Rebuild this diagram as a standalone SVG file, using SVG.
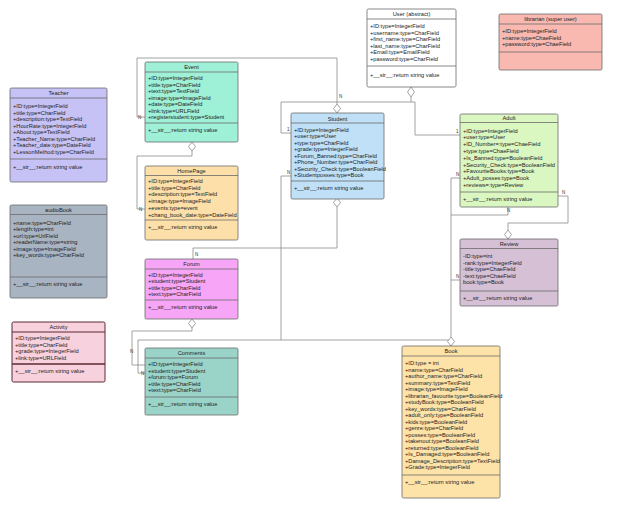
<svg xmlns="http://www.w3.org/2000/svg" width="640" height="507" viewBox="0 0 640 507">
<style>
.bg{fill:#ffffff}
.box{stroke:#6b6b6b;stroke-width:0.8}
.ln{stroke:#6b6b6b;stroke-width:0.8}
.t{font-family:"Liberation Sans",Arial,sans-serif;font-size:5.7px;fill:#222}
.ti{text-anchor:middle}
.c{fill:none;stroke:#8c8c8c;stroke-width:0.8}
.d{fill:#ffffff;stroke:#8c8c8c;stroke-width:0.8}
.lb{font-family:"Liberation Sans",Arial,sans-serif;font-size:4.5px;fill:#333}
</style>
<rect class="bg" x="0" y="0" width="640" height="507"/>

<g id="connectors">
  <path class="c" d="M145,117 H137 V58 H337 V104"/>
  <polygon class="d" points="337,104 340.5,108.5 337,113 333.5,108.5"/>
  <text class="lb" x="138" y="119">N</text>
  <text class="lb" x="339" y="98">N</text>
  <polygon class="d" points="192,142 195.5,146.5 192,151 188.5,146.5"/>
  <path class="c" d="M192,151 V156 H137 V209 H145"/>
  <text class="lb" x="139" y="211">N</text>
  <polygon class="d" points="411,87 414.5,92 411,97 407.5,92"/>
  <path class="c" d="M411,97 V102 H281 V133 H291"/>
  <text class="lb" x="287" y="131">1</text>
  <path class="c" d="M411,102 H415 V135 H460"/>
  <text class="lb" x="456" y="133">1</text>
  <polygon class="d" points="337,198 340.5,202.5 337,207 333.5,202.5"/>
  <path class="c" d="M337,207 V248 H193 V259"/>
  <text class="lb" x="195" y="256">N</text>
  <path class="c" d="M291,176 H281 V340 H451"/>
  <text class="lb" x="287" y="174">N</text>
  <path class="c" d="M145,373 H138 V340 H281"/>
  <text class="lb" x="141" y="375">N</text>
  <polygon class="d" points="192,319 195.5,323.5 192,328 188.5,323.5"/>
  <path class="c" d="M192,328 V331 H132 V365 H145"/>
  <text class="lb" x="130" y="353">N</text>
  <path class="c" d="M558,196 H568 V223 H508 V230"/>
  <polygon class="d" points="508,230 511.5,234.5 508,239 504.5,234.5"/>
  <text class="lb" x="562" y="194">N</text>
  <path class="c" d="M460,178 H451 V337"/>
  <text class="lb" x="456" y="176">N</text>
  <path class="c" d="M508,207 V215 H451"/>
  <text class="lb" x="507" y="212">N</text>
  <path class="c" d="M460,280 H451"/>
  <text class="lb" x="456" y="278">N</text>
  <polygon class="d" points="451,337 454.5,341.5 451,346 447.5,341.5"/>
</g>

<g id="teacher">
  <rect class="box" x="10" y="88" width="97" height="94" rx="1.5" fill="#c7c2f5"/>
  <line class="ln" x1="10" y1="98" x2="107" y2="98"/>
  <line class="ln" x1="10" y1="159" x2="107" y2="159"/>
  <text class="t ti" x="58.5" y="94.5">Teacher</text>
  <text class="t" x="13" y="108">
    <tspan x="13">+ID:type=IntegerField</tspan>
    <tspan x="13" dy="6.57">+title:type=CharField</tspan>
    <tspan x="13" dy="6.57">+description:type=TextField</tspan>
    <tspan x="13" dy="6.57">+HourRate:type=IntegerField</tspan>
    <tspan x="13" dy="6.57">+About:type=TextField</tspan>
    <tspan x="13" dy="6.57">+Teacher_Name:type=CharField</tspan>
    <tspan x="13" dy="6.57">+Teacher_date:type=DateField</tspan>
    <tspan x="13" dy="6.57">+LessonMethod:type=CharField</tspan>
  </text>
  <text class="t" x="13" y="169">+__str__:return string value</text>
</g>

<g id="audiobook">
  <rect class="box" x="10" y="205" width="97" height="93" rx="1.5" fill="#a9b4c3"/>
  <line class="ln" x1="10" y1="214.5" x2="107" y2="214.5"/>
  <line class="ln" x1="10" y1="277" x2="107" y2="277"/>
  <text class="t ti" x="58.5" y="211.5">audioBook</text>
  <text class="t" x="13" y="225">
    <tspan x="13">+name:type=CharField</tspan>
    <tspan x="13" dy="6.4">+length:type=int</tspan>
    <tspan x="13" dy="6.4">+url:type=UrlField</tspan>
    <tspan x="13" dy="6.4">+readerName:type=string</tspan>
    <tspan x="13" dy="6.4">+image:type=ImageField</tspan>
    <tspan x="13" dy="6.4">+key_words:type=CharField</tspan>
  </text>
  <text class="t" x="13" y="286">+__str__:return string value</text>
</g>

<g id="activity">
  <rect x="12" y="322" width="93" height="60" rx="1.5" fill="#f8d1de" stroke="#5a2a33" stroke-width="1"/>
  <line x1="12" y1="332" x2="105" y2="332" stroke="#5a2a33" stroke-width="1"/>
  <line x1="12" y1="364" x2="105" y2="364" stroke="#5a2a33" stroke-width="1.3"/>
  <text class="t ti" x="58.5" y="328.5">Activity</text>
  <text class="t" x="15" y="340">
    <tspan x="15">+ID:type=IntegerField</tspan>
    <tspan x="15" dy="6.67">+title:type=CharField</tspan>
    <tspan x="15" dy="6.67">+grade:type=IntegerField</tspan>
    <tspan x="15" dy="6.67">+link:type=URLField</tspan>
  </text>
  <text class="t" x="15" y="373">+__str__:return string value</text>
</g>

<g id="event">
  <rect class="box" x="145" y="62" width="93" height="80" rx="1.5" fill="#9ef0d6"/>
  <line class="ln" x1="145" y1="72" x2="238" y2="72"/>
  <line class="ln" x1="145" y1="123" x2="238" y2="123"/>
  <text class="t ti" x="191.5" y="69">Event</text>
  <text class="t" x="148" y="80">
    <tspan x="148">+ID:type=IntegerField</tspan>
    <tspan x="148" dy="6.5">+title:type=CharField</tspan>
    <tspan x="148" dy="6.5">+text:type=TextField</tspan>
    <tspan x="148" dy="6.5">+image:type=ImageField</tspan>
    <tspan x="148" dy="6.5">+date:type=DateField</tspan>
    <tspan x="148" dy="6.5">+link:type=URLField</tspan>
    <tspan x="148" dy="6.5">+registerstudent:type=Student</tspan>
  </text>
  <text class="t" x="148" y="132">+__str__:return string value</text>
</g>

<g id="homepage">
  <rect class="box" x="145" y="166" width="93" height="74" rx="1.5" fill="#fde0a9"/>
  <line class="ln" x1="145" y1="175.5" x2="238" y2="175.5"/>
  <line class="ln" x1="145" y1="220" x2="238" y2="220"/>
  <text class="t ti" x="191.5" y="172.5">HomePage</text>
  <text class="t" x="148" y="183">
    <tspan x="148">+ID:type=IntegerField</tspan>
    <tspan x="148" dy="6.7">+title:type=CharField</tspan>
    <tspan x="148" dy="6.7">+description:type=TextField</tspan>
    <tspan x="148" dy="6.7">+image:type=ImageField</tspan>
    <tspan x="148" dy="6.7">+events:type=event</tspan>
    <tspan x="148" dy="6.7">+chang_book_date:type=DateField</tspan>
  </text>
  <text class="t" x="148" y="228.5">+__str__:return string value</text>
</g>

<g id="forum">
  <rect class="box" x="145" y="259" width="93" height="60" rx="1.5" fill="#f7a5f6"/>
  <line class="ln" x1="145" y1="269" x2="238" y2="269"/>
  <line class="ln" x1="145" y1="300" x2="238" y2="300"/>
  <text class="t ti" x="191.5" y="266">Forum</text>
  <text class="t" x="148" y="276.5">
    <tspan x="148">+ID:type=IntegerField</tspan>
    <tspan x="148" dy="6.5">+student:type=Student</tspan>
    <tspan x="148" dy="6.5">+title:type=CharField</tspan>
    <tspan x="148" dy="6.5">+text:type=CharField</tspan>
  </text>
  <text class="t" x="148" y="309">+__str__:return string value</text>
</g>

<g id="comments">
  <rect class="box" x="145" y="348" width="93" height="67" rx="1.5" fill="#9ad4c8"/>
  <line class="ln" x1="145" y1="358" x2="238" y2="358"/>
  <line class="ln" x1="145" y1="397" x2="238" y2="397"/>
  <text class="t ti" x="191.5" y="355">Comments</text>
  <text class="t" x="148" y="366">
    <tspan x="148">+ID:type=IntegerField</tspan>
    <tspan x="148" dy="6.6">+student:type=Student</tspan>
    <tspan x="148" dy="6.6">+forum:type=Forum</tspan>
    <tspan x="148" dy="6.6">+title:type=CharField</tspan>
    <tspan x="148" dy="6.6">+text:type=CharField</tspan>
  </text>
  <text class="t" x="148" y="405.5">+__str__:return string value</text>
</g>

<g id="student">
  <rect class="box" x="291" y="113" width="93" height="86" rx="1.5" fill="#bfe0f6"/>
  <line class="ln" x1="291" y1="123" x2="384" y2="123"/>
  <line class="ln" x1="291" y1="181" x2="384" y2="181"/>
  <text class="t ti" x="337.5" y="120.5">Student</text>
  <text class="t" x="294" y="132">
    <tspan x="294">+ID:type=IntegerField</tspan>
    <tspan x="294" dy="6.43">+user:type=User</tspan>
    <tspan x="294" dy="6.43">+type:type=CharField</tspan>
    <tspan x="294" dy="6.43">+grade:type=IntegerField</tspan>
    <tspan x="294" dy="6.43">+Forum_Banned:type=CharField</tspan>
    <tspan x="294" dy="6.43">+Phone_Number:type=CharField</tspan>
    <tspan x="294" dy="6.43">+Security_Check:type=BooleanField</tspan>
    <tspan x="294" dy="6.43">+Studentposses:type=Book</tspan>
  </text>
  <text class="t" x="294" y="190">+__str__:return string value</text>
</g>

<g id="user">
  <rect class="box" x="367" y="9" width="89" height="78" rx="1.5" fill="#ffffff"/>
  <line class="ln" x1="367" y1="19" x2="456" y2="19"/>
  <line class="ln" x1="367" y1="66" x2="456" y2="66"/>
  <text class="t ti" x="411.5" y="16">User (abstract)</text>
  <text class="t" x="370" y="28">
    <tspan x="370">+ID:type=IntegerField</tspan>
    <tspan x="370" dy="6.5">+username:type=CharField</tspan>
    <tspan x="370" dy="6.5">+first_name:type=CharField</tspan>
    <tspan x="370" dy="6.5">+last_name:type=CharField</tspan>
    <tspan x="370" dy="6.5">+Email:type=EmailField</tspan>
    <tspan x="370" dy="6.5">+password:type=CharField</tspan>
  </text>
  <text class="t" x="370" y="77">+__str__:return string value</text>
</g>

<g id="librarian">
  <rect class="box" x="499" y="14" width="103" height="56" rx="1.5" fill="#f9b9b1"/>
  <line class="ln" x1="499" y1="24" x2="602" y2="24"/>
  <line class="ln" x1="499" y1="52" x2="602" y2="52"/>
  <text class="t ti" x="550.5" y="21">librarian (super user)</text>
  <text class="t" x="502" y="33">
    <tspan x="502">+ID:type=IntegerField</tspan>
    <tspan x="502" dy="6.5">+name:type=ChaeField</tspan>
    <tspan x="502" dy="6.5">+password:type=ChaeField</tspan>
  </text>
</g>

<g id="adult">
  <rect class="box" x="460" y="114" width="98" height="93" rx="1.5" fill="#daf7c2"/>
  <line class="ln" x1="460" y1="122.5" x2="558" y2="122.5"/>
  <line class="ln" x1="460" y1="192" x2="558" y2="192"/>
  <text class="t ti" x="509" y="120">Adult</text>
  <text class="t" x="463" y="132.5">
    <tspan x="463">+ID:type=IntegerField</tspan>
    <tspan x="463" dy="6.8">+user:type=User</tspan>
    <tspan x="463" dy="6.8">+ID_Number=:type=ChaeField</tspan>
    <tspan x="463" dy="6.8">+type:type=ChaeField</tspan>
    <tspan x="463" dy="6.8">+Is_Banned:type=BooleanField</tspan>
    <tspan x="463" dy="6.8">+Security_Check:type=BooleanField</tspan>
    <tspan x="463" dy="6.8">+FavouriteBooks:type=Book</tspan>
    <tspan x="463" dy="6.8">+Adult_posses:type=Book</tspan>
    <tspan x="463" dy="6.8">+reviews=:type=Review</tspan>
  </text>
  <text class="t" x="463" y="201">+__str__:return string value</text>
</g>

<g id="review">
  <rect class="box" x="460" y="239" width="98" height="67" rx="1.5" fill="#d6c0d6"/>
  <line class="ln" x1="460" y1="248.5" x2="558" y2="248.5"/>
  <line class="ln" x1="460" y1="291" x2="558" y2="291"/>
  <text class="t ti" x="509" y="246">Review</text>
  <text class="t" x="463" y="258">
    <tspan x="463">-ID:type=int</tspan>
    <tspan x="463" dy="6.6">-rank:type=IntegerField</tspan>
    <tspan x="463" dy="6.6">-title:type=ChaeField</tspan>
    <tspan x="463" dy="6.6">-text:type=ChaeField</tspan>
    <tspan x="463" dy="6.6">book:type=Book</tspan>
  </text>
  <text class="t" x="463" y="300">+__str__:return string value</text>
</g>

<g id="book">
  <rect class="box" x="402" y="346" width="98" height="152" rx="1.5" fill="#fde3a8"/>
  <line class="ln" x1="402" y1="356" x2="500" y2="356"/>
  <line class="ln" x1="402" y1="475" x2="500" y2="475"/>
  <text class="t ti" x="451" y="353">Book</text>
  <text class="t" x="405" y="365">
    <tspan x="405">+ID:type = int</tspan>
    <tspan x="405" dy="6.5">+name:type=CharField</tspan>
    <tspan x="405" dy="6.5">+author_name:type=CharField</tspan>
    <tspan x="405" dy="6.5">+summary:type=TextField</tspan>
    <tspan x="405" dy="6.5">+image:type=ImageField</tspan>
    <tspan x="405" dy="6.5">+librarian_favourite:type=BooleanField</tspan>
    <tspan x="405" dy="6.5">+studyBook:type=BooleanField</tspan>
    <tspan x="405" dy="6.5">+key_words:type=CharField</tspan>
    <tspan x="405" dy="6.5">+adult_only:type=BooleanField</tspan>
    <tspan x="405" dy="6.5">+kids:type=BooleanField</tspan>
    <tspan x="405" dy="6.5">+genre:type=CharField</tspan>
    <tspan x="405" dy="6.5">+posses:type=BooleanField</tspan>
    <tspan x="405" dy="6.5">+takenout:type=BooleanField</tspan>
    <tspan x="405" dy="6.5">+returned:type=BooleanField</tspan>
    <tspan x="405" dy="6.5">+Is_Damaged:type=BooleanField</tspan>
    <tspan x="405" dy="6.5">+Damage_Description:type=TextField</tspan>
    <tspan x="405" dy="6.5">+Grade:type=IntegerField</tspan>
  </text>
  <text class="t" x="405" y="484">+__str__:return string value</text>
</g>
</svg>
